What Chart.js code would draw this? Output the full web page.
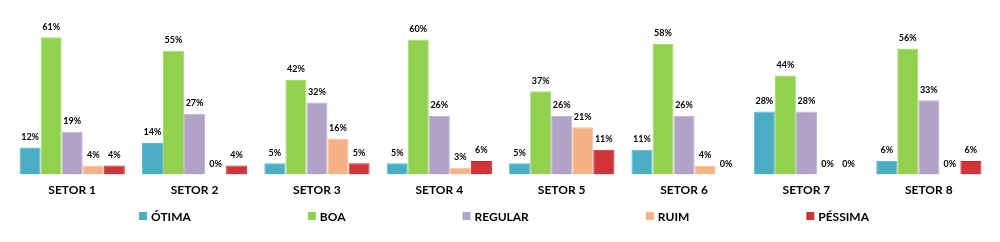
<!DOCTYPE html>
<html>
<head>
<meta charset="utf-8">
<script src="https://cdn.jsdelivr.net/npm/chart.js@4"></script>
<style>
  body { margin: 0; background: #fff; }
  #wrap { width: 1000px; height: 242px; }
</style>
</head>
<body>
<div id="wrap"><canvas id="chart"></canvas></div>
<script>
const setores = ['SETOR 1', 'SETOR 2', 'SETOR 3', 'SETOR 4', 'SETOR 5', 'SETOR 6', 'SETOR 7', 'SETOR 8'];
const otima   = [12, 14,  5,  5,  5, 11, 28,  6];
const boa     = [61, 55, 42, 60, 37, 58, 44, 56];
const regular = [19, 27, 32, 26, 26, 26, 28, 33];
const ruim    = [ 4,  0, 16,  3, 21,  4,  0,  0];
const pessima = [ 4,  4,  5,  6, 11,  0,  0,  6];

const FONT = 'Lato, "Open Sans", sans-serif';

function ds(label, values, color, border) {
  return {
    label: label,
    data: values,
    backgroundColor: color,
    borderColor: border,
    borderWidth: 1,
    categoryPercentage: 0.86,
    barPercentage: 1.0
  };
}

// value labels on top of every bar
const valueLabels = {
  id: 'valueLabels',
  afterDatasetsDraw(chart) {
    const ctx = chart.ctx;
    ctx.save();
    ctx.font = 'bold 9px ' + FONT;
    ctx.fillStyle = '#000';
    ctx.textAlign = 'center';
    ctx.textBaseline = 'bottom';
    chart.data.datasets.forEach((d, i) => {
      chart.getDatasetMeta(i).data.forEach((bar, j) => {
        ctx.fillText(d.data[j] + '%', bar.x, bar.y - 6);
      });
    });
    ctx.restore();
  }
};

// Excel-style legend, items spread wide along the bottom
const wideLegend = {
  id: 'wideLegend',
  afterDraw(chart) {
    const ctx = chart.ctx;
    const gap = 117, box = 8;
    ctx.save();
    ctx.font = 'bold 12px ' + FONT;
    const items = chart.data.datasets.map(d => ({
      text: d.label, color: d.backgroundColor,
      w: box + 4 + ctx.measureText(d.label).width
    }));
    const total = items.reduce((s, it) => s + it.w, 0) + gap * (items.length - 1);
    let x = 504 - total / 2;
    const y = 216;
    ctx.textBaseline = 'middle';
    items.forEach(it => {
      ctx.fillStyle = it.color;
      ctx.fillRect(x, y - box / 2, box, box);
      ctx.fillStyle = '#000';
      ctx.fillText(it.text, x + box + 4, y + 1);
      x += it.w + gap;
    });
    ctx.restore();
  }
};

new Chart(document.getElementById('chart').getContext('2d'), {
  type: 'bar',
  data: {
    labels: setores,
    datasets: [
      ds('ÓTIMA', otima, '#4BACC6', '#5FB9D1'),
      ds('BOA', boa, '#92D050', '#A4DA6A'),
      ds('REGULAR', regular, '#B3A2C7', '#C0B2D1'),
      ds('RUIM', ruim, '#F6B185', '#F9C3A0'),
      ds('PÉSSIMA', pessima, '#D13438', '#C0282D')
    ]
  },
  options: {
    responsive: true,
    maintainAspectRatio: false,
    animation: false,
    layout: { padding: { left: 11, right: 10, top: 17, bottom: 45 } },
    plugins: {
      legend: { display: false },
      tooltip: { enabled: false }
    },
    scales: {
      x: {
        grid: { display: false, drawBorder: false },
        border: { display: false },
        ticks: {
          color: '#000',
          font: { family: FONT, size: 12, weight: 'bold' },
          padding: 0
        }
      },
      y: {
        display: false,
        min: 0,
        max: 70
      }
    }
  },
  plugins: [valueLabels, wideLegend]
});
</script>
</body>
</html>
